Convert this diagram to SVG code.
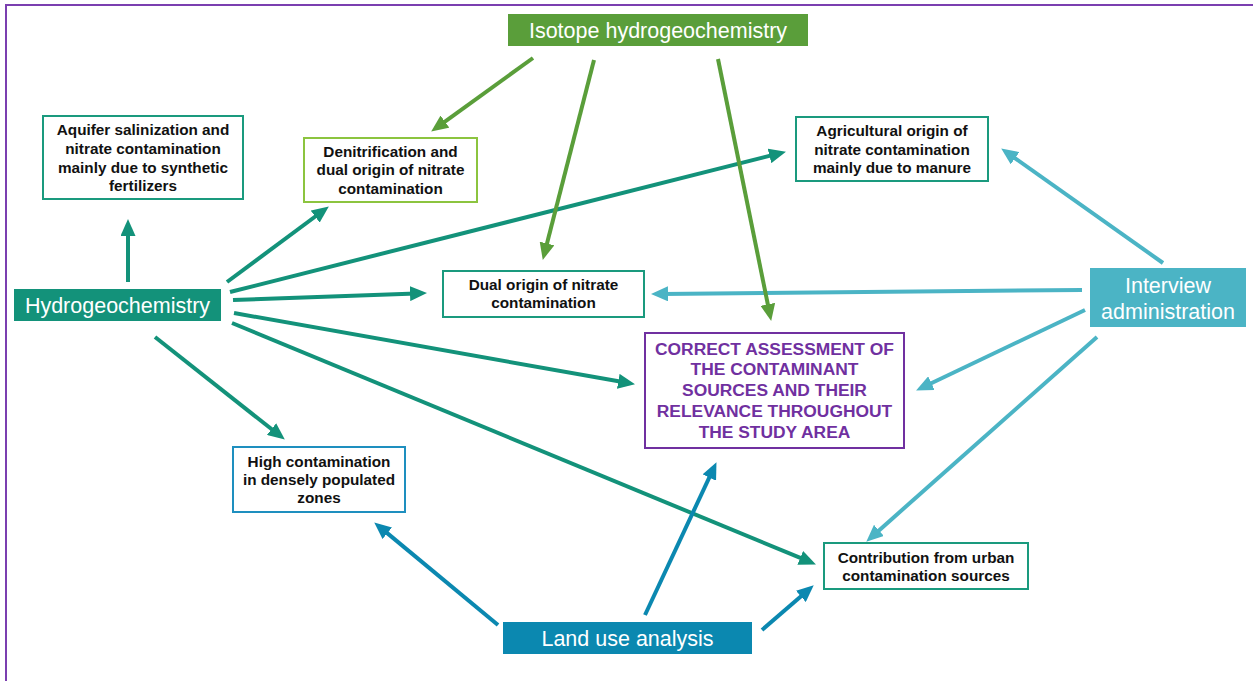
<svg xmlns="http://www.w3.org/2000/svg" width="1253" height="681" viewBox="0 0 1253 681">
<style>
.bt{font-family:"Liberation Sans",Arial,sans-serif;font-weight:bold;font-size:15.3px;fill:#111;text-anchor:middle}
.pt{font-family:"Liberation Sans",Arial,sans-serif;font-weight:bold;font-size:17.4px;fill:#7030a0;text-anchor:middle}
.wt{font-family:"Liberation Sans",Arial,sans-serif;font-size:21.5px;fill:#fff;text-anchor:middle}
.box{fill:#fff;stroke-width:2}
.c{fill:none;stroke-width:4}
.teal{stroke:#13927a}
.grn{stroke:#5a9e3a}
.cy{stroke:#4bb4c5}
.blu{stroke:#0b88b0}
</style>
<defs>
<marker id="mTeal" markerUnits="userSpaceOnUse" markerWidth="17" markerHeight="15" refX="6" refY="7.5" orient="auto"><path d="M0,0 L17,7.5 L0,15 z" fill="#13927a"/></marker>
<marker id="mGrn" markerUnits="userSpaceOnUse" markerWidth="17" markerHeight="15" refX="6" refY="7.5" orient="auto"><path d="M0,0 L17,7.5 L0,15 z" fill="#5a9e3a"/></marker>
<marker id="mCy" markerUnits="userSpaceOnUse" markerWidth="17" markerHeight="15" refX="6" refY="7.5" orient="auto"><path d="M0,0 L17,7.5 L0,15 z" fill="#4bb4c5"/></marker>
<marker id="mBlu" markerUnits="userSpaceOnUse" markerWidth="17" markerHeight="15" refX="6" refY="7.5" orient="auto"><path d="M0,0 L17,7.5 L0,15 z" fill="#0b88b0"/></marker>
</defs>
<rect width="1253" height="681" fill="#fff"/>
<rect x="6" y="5" width="1270" height="700" fill="none" stroke="#7b3fb0" stroke-width="2"/>

<g id="connectors">
<line class="c teal" x1="128" y1="282" x2="128" y2="230" marker-end="url(#mTeal)"/>
<line class="c teal" x1="227" y1="282" x2="320" y2="213" marker-end="url(#mTeal)"/>
<line class="c teal" x1="230" y1="292" x2="775.3" y2="154.4" marker-end="url(#mTeal)"/>
<line class="c teal" x1="233" y1="300" x2="416" y2="293.4" marker-end="url(#mTeal)"/>
<line class="c teal" x1="234" y1="313" x2="624.2" y2="382.3" marker-end="url(#mTeal)"/>
<line class="c teal" x1="232" y1="323" x2="805.8" y2="560.2" marker-end="url(#mTeal)"/>
<line class="c teal" x1="155" y1="337" x2="276.2" y2="432.8" marker-end="url(#mTeal)"/>
<line class="c cy" x1="1163" y1="263" x2="1010.2" y2="154.8" marker-end="url(#mCy)"/>
<line class="c cy" x1="1082" y1="290" x2="662" y2="293.9" marker-end="url(#mCy)"/>
<line class="c cy" x1="1085" y1="310" x2="926" y2="385.7" marker-end="url(#mCy)"/>
<line class="c cy" x1="1097" y1="337" x2="874.5" y2="534.4" marker-end="url(#mCy)"/>
<line class="c grn" x1="533" y1="58" x2="440.1" y2="125.1" marker-end="url(#mGrn)"/>
<line class="c grn" x1="594" y1="60" x2="545.5" y2="249.3" marker-end="url(#mGrn)"/>
<line class="c grn" x1="718" y1="59" x2="769" y2="310.2" marker-end="url(#mGrn)"/>
<line class="c blu" x1="498" y1="625" x2="382.7" y2="529.4" marker-end="url(#mBlu)"/>
<line class="c blu" x1="645" y1="615" x2="711.8" y2="472.1" marker-end="url(#mBlu)"/>
<line class="c blu" x1="762" y1="630" x2="805.4" y2="592.5" marker-end="url(#mBlu)"/>
</g>

<g id="isotope">
<rect x="508" y="14" width="300" height="32" fill="#5a9e3a"/>
<text class="wt" x="658" y="38">Isotope hydrogeochemistry</text>
</g>
<g id="aquifer">
<rect class="box" x="43" y="116" width="200" height="83" stroke="#1a9a7e"/>
<text class="bt" x="143" y="135">Aquifer salinization and</text>
<text class="bt" x="143" y="154">nitrate contamination</text>
<text class="bt" x="143" y="173">mainly due to synthetic</text>
<text class="bt" x="143" y="191">fertilizers</text>
</g>
<g id="denitrification">
<rect class="box" x="304" y="138" width="173" height="64" stroke="#8cc43f"/>
<text class="bt" x="390.5" y="157">Denitrification and</text>
<text class="bt" x="390.5" y="175">dual origin of nitrate</text>
<text class="bt" x="390.5" y="194">contamination</text>
</g>
<g id="agricultural">
<rect class="box" x="796" y="117" width="192" height="64" stroke="#1a9a7e"/>
<text class="bt" x="892" y="136">Agricultural origin of</text>
<text class="bt" x="892" y="155">nitrate contamination</text>
<text class="bt" x="892" y="173">mainly due to manure</text>
</g>
<g id="hydrogeochemistry">
<rect x="14" y="289" width="207" height="32" fill="#13927a"/>
<text class="wt" x="117.5" y="313">Hydrogeochemistry</text>
</g>
<g id="dual">
<rect class="box" x="443" y="271" width="201" height="46" stroke="#1a9a7e"/>
<text class="bt" x="543.5" y="290">Dual origin of nitrate</text>
<text class="bt" x="543.5" y="308">contamination</text>
</g>
<g id="interview">
<rect x="1090" y="268" width="156" height="59" fill="#4bb4c5"/>
<text class="wt" x="1168" y="293">Interview</text>
<text class="wt" x="1168" y="319">administration</text>
</g>
<g id="assessment">
<rect class="box" x="645" y="333" width="259" height="115" stroke="#7030a0"/>
<text class="pt" x="774.5" y="355">CORRECT ASSESSMENT OF</text>
<text class="pt" x="774.5" y="375">THE CONTAMINANT</text>
<text class="pt" x="774.5" y="396">SOURCES AND THEIR</text>
<text class="pt" x="774.5" y="417">RELEVANCE THROUGHOUT</text>
<text class="pt" x="774.5" y="438">THE STUDY AREA</text>
</g>
<g id="high">
<rect class="box" x="233" y="447" width="172" height="65" stroke="#1e8fbf"/>
<text class="bt" x="319" y="467">High contamination</text>
<text class="bt" x="319" y="485">in densely populated</text>
<text class="bt" x="319" y="503">zones</text>
</g>
<g id="contribution">
<rect class="box" x="824" y="543" width="204" height="46" stroke="#1a9a7e"/>
<text class="bt" x="926" y="563">Contribution from urban</text>
<text class="bt" x="926" y="581">contamination sources</text>
</g>
<g id="landuse">
<rect x="503" y="622" width="249" height="32" fill="#0b88b0"/>
<text class="wt" x="627.5" y="646">Land use analysis</text>
</g>
</svg>
